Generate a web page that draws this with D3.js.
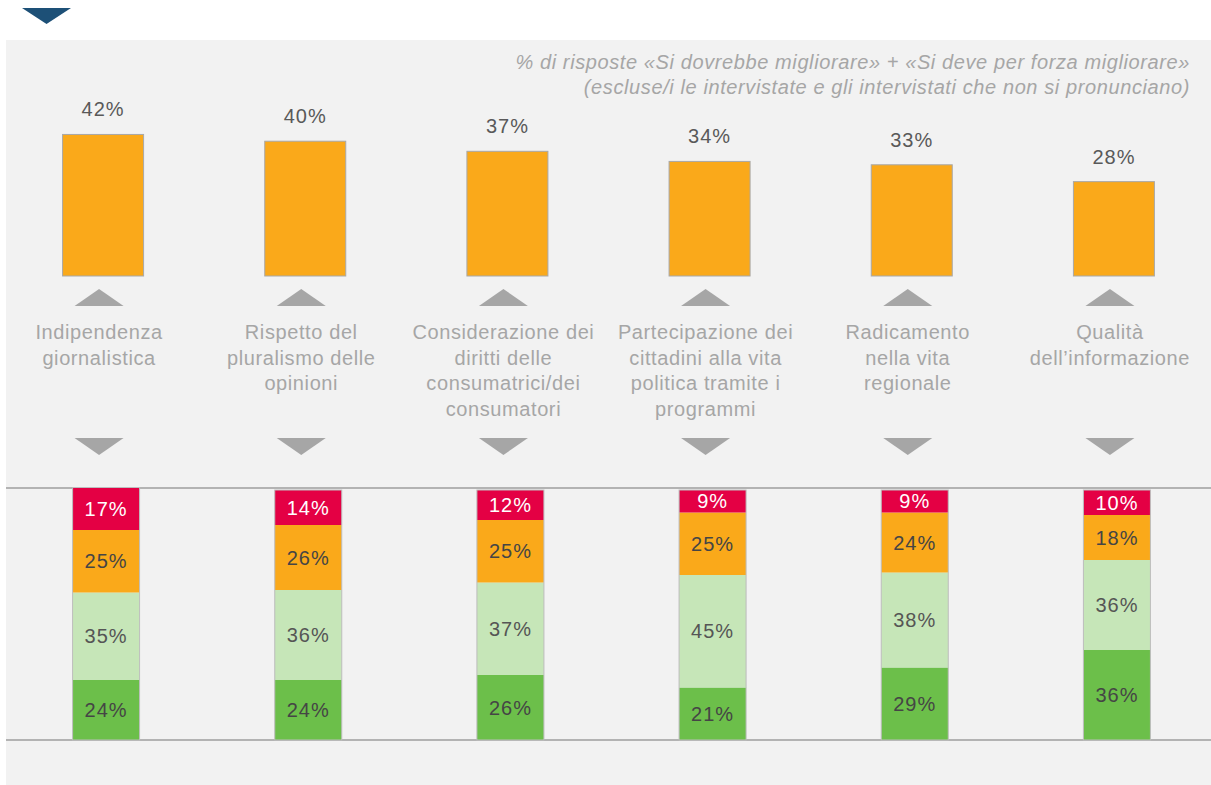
<!DOCTYPE html>
<html>
<head>
<meta charset="utf-8">
<script src="https://cdn.jsdelivr.net/npm/d3@7"></script>
<style>
  html, body { margin: 0; padding: 0; background: #ffffff; }
  svg { display: block; }
  text { font-family: "Liberation Sans", Arial, Helvetica, sans-serif; }
</style>
</head>
<body>
<svg id="chart" width="1211" height="785"></svg>
<script>
// ---- Data ----
const categories = [
  "Indipendenza giornalistica",
  "Rispetto del pluralismo delle opinioni",
  "Considerazione dei diritti delle consumatrici/dei consumatori",
  "Partecipazione dei cittadini alla vita politica tramite i programmi",
  "Radicamento nella vita regionale",
  "Qualità dell’informazione"
];
const categoryLines = [
  ["Indipendenza", "giornalistica"],
  ["Rispetto del", "pluralismo delle", "opinioni"],
  ["Considerazione dei", "diritti delle", "consumatrici/dei", "consumatori"],
  ["Partecipazione dei", "cittadini alla vita", "politica tramite i", "programmi"],
  ["Radicamento", "nella vita", "regionale"],
  ["Qualità", "dell’informazione"]
];
const improveValues = [42, 40, 37, 34, 33, 28];
// stacked bars, bottom to top
const seriesKeys = ["green", "lightgreen", "orange", "red"];
const greenValues      = [24, 24, 26, 21, 29, 36];
const lightGreenValues = [35, 36, 37, 45, 38, 36];
const orangeValues     = [25, 26, 25, 25, 24, 18];
const redValues        = [17, 14, 12, 9, 9, 10];
const subtitleLines = [
  "% di risposte «Si dovrebbe migliorare» + «Si deve per forza migliorare»",
  "(escluse/i le intervistate e gli intervistati che non si pronunciano)"
];

// ---- Setup ----
const svg = d3.select("#chart");
const W = 1211, H = 785;
const colors = {
  green: "#6cbf4a", lightgreen: "#c6e6b8", orange: "#faa91a", red: "#e40044"
};
const labelColors = { green: "#454545", lightgreen: "#555555", orange: "#454545", red: "#ffffff" };
const FS = 20;

// panel background
svg.append("rect").attr("x", 6).attr("y", 40).attr("width", W - 6).attr("height", H - 40)
  .attr("fill", "#f2f2f2");

// dark marker triangle
svg.append("path").attr("d", "M22,8 L71,8 L46.5,24 Z").attr("fill", "#1d5077");

// subtitle
svg.append("g").selectAll("text").data(subtitleLines).join("text")
  .attr("x", 1190).attr("y", (d, i) => 69 + i * 25)
  .attr("text-anchor", "end")
  .attr("font-size", FS).attr("font-style", "italic")
  .attr("letter-spacing", 0.6)
  .attr("fill", "#a6a6a6")
  .text(d => d);

// x scale
const x = d3.scaleBand().domain(categories).range([2, 1215]).paddingInner(0.6).paddingOuter(0.3);

// ---- Top bars ----
const yTop = d3.scaleLinear().domain([0, 100]).range([276, 276 - 337]);
const topW = 81;
const topG = svg.append("g");
topG.selectAll("rect").data(categories).join("rect")
  .attr("x", (d) => x(d) + x.bandwidth() / 2 - topW / 2)
  .attr("y", (d, i) => yTop(improveValues[i]))
  .attr("width", topW)
  .attr("height", (d, i) => yTop(0) - yTop(improveValues[i]))
  .attr("fill", colors.orange)
  .attr("stroke", "#a8a8a8").attr("stroke-width", 1);

topG.selectAll("text").data(categories).join("text")
  .attr("x", d => x(d) + x.bandwidth() / 2)
  .attr("y", (d, i) => yTop(improveValues[i]) - 18)
  .attr("text-anchor", "middle")
  .attr("font-size", FS).attr("letter-spacing", 1).attr("fill", "#595959")
  .text((d, i) => improveValues[i] + "%");

// ---- Arrows & category labels ----
const midG = svg.append("g");
const triW = 49;
midG.selectAll("path.up").data(categories).join("path").attr("class", "up")
  .attr("d", d => {
    const c = x(d) + x.bandwidth() / 2 - 4;
    return `M${c - triW / 2},306 L${c + triW / 2},306 L${c},289 Z`;
  })
  .attr("fill", "#a6a6a6");
midG.selectAll("path.down").data(categories).join("path").attr("class", "down")
  .attr("d", d => {
    const c = x(d) + x.bandwidth() / 2 - 4;
    return `M${c - triW / 2},438 L${c + triW / 2},438 L${c},455 Z`;
  })
  .attr("fill", "#a6a6a6");

midG.selectAll("text").data(categories).join("text")
  .attr("x", d => x(d) + x.bandwidth() / 2 - 4)
  .attr("y", 339)
  .attr("text-anchor", "middle")
  .attr("font-size", FS).attr("letter-spacing", 0.6).attr("fill", "#a6a6a6")
  .each(function (d, i) {
    const t = d3.select(this);
    categoryLines[i].forEach((line, j) => {
      t.append("tspan").attr("x", x(d) + x.bandwidth() / 2 - 4)
        .attr("dy", j === 0 ? 0 : 25.5).text(line);
    });
  });

// ---- Baselines ----
svg.append("g").selectAll("line").data([488, 740]).join("line")
  .attr("x1", 6).attr("x2", W).attr("y1", d => d).attr("y2", d => d)
  .attr("stroke", "#b3b3b3").attr("stroke-width", 2);

// ---- Stacked bars ----
const rows = categories.map((c, i) => ({
  cat: c,
  green: greenValues[i], lightgreen: lightGreenValues[i],
  orange: orangeValues[i], red: redValues[i]
}));
const stack = d3.stack().keys(seriesKeys)(rows);
const yBot = d3.scaleLinear().domain([0, 100]).range([740, 490]);
const botW = 67;
const bx = d => x(d) + x.bandwidth() / 2 + 3 - botW / 2;

const botG = svg.append("g");
stack.forEach(layer => {
  const key = layer.key;
  const g = botG.append("g");
  g.selectAll("rect").data(layer).join("rect")
    .attr("x", d => bx(d.data.cat))
    .attr("y", d => yBot(d[1]))
    .attr("width", botW)
    .attr("height", d => yBot(d[0]) - yBot(d[1]))
    .attr("fill", colors[key]);
});
// outline
botG.selectAll("rect.outline").data(rows).join("rect").attr("class", "outline")
  .attr("x", d => bx(d.cat))
  .attr("y", d => yBot(d.green + d.lightgreen + d.orange + d.red))
  .attr("width", botW)
  .attr("height", d => yBot(0) - yBot(d.green + d.lightgreen + d.orange + d.red))
  .attr("fill", "none").attr("stroke", "#bdbdbd").attr("stroke-width", 1);

stack.forEach(layer => {
  const key = layer.key;
  botG.append("g").selectAll("text").data(layer).join("text")
    .attr("x", d => bx(d.data.cat) + botW / 2)
    .attr("y", d => (yBot(d[0]) + yBot(d[1])) / 2)
    .attr("dy", "0.36em")
    .attr("text-anchor", "middle")
    .attr("font-size", FS).attr("letter-spacing", 1).attr("fill", labelColors[key])
    .text(d => d.data[key] + "%");
});
</script>
</body>
</html>
